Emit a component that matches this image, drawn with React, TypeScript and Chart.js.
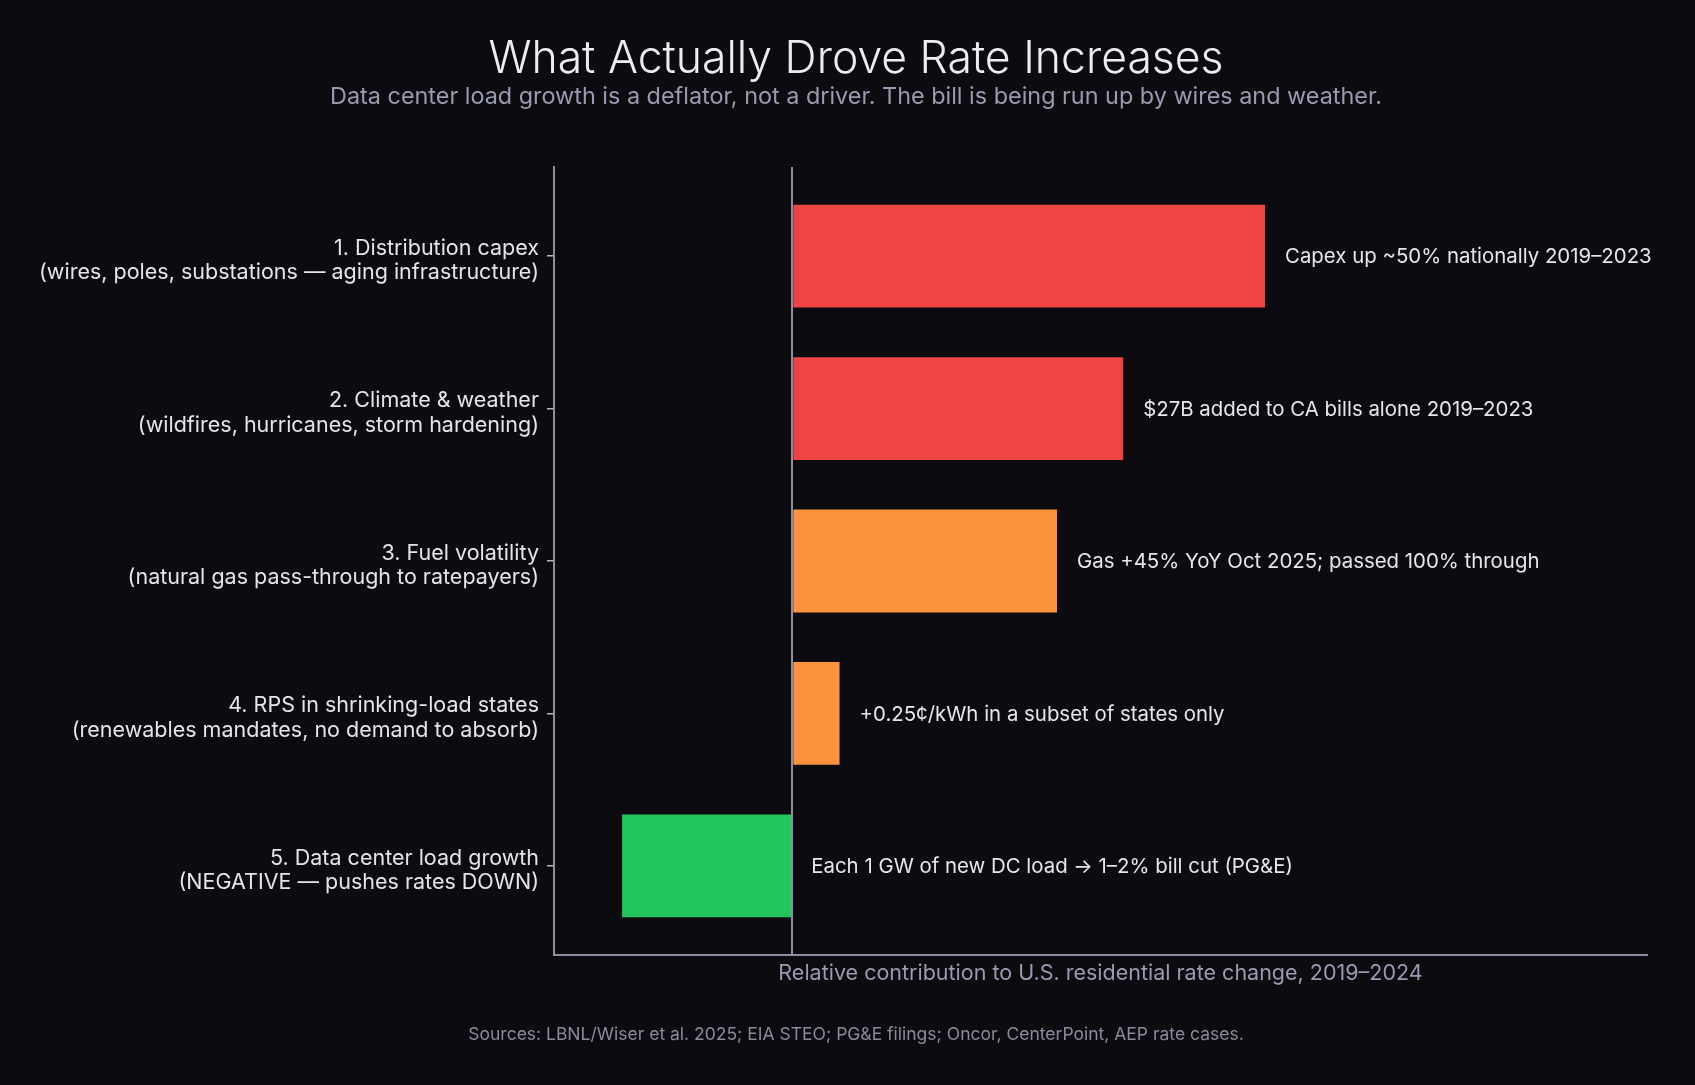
import React, { useEffect, useRef } from "react";
import { Chart, registerables } from "chart.js";

Chart.register(...registerables);

const categories: string[][] = [
  ["1. Distribution capex", "(wires, poles, substations — aging infrastructure)"],
  ["2. Climate & weather", "(wildfires, hurricanes, storm hardening)"],
  ["3. Fuel volatility", "(natural gas pass-through to ratepayers)"],
  ["4. RPS in shrinking-load states", "(renewables mandates, no demand to absorb)"],
  ["5. Data center load growth", "(NEGATIVE — pushes rates DOWN)"],
];
const contributions: number[] = [100, 70, 56, 10, -36];
const barColors: string[] = ["#ef4444", "#ef4444", "#fb923c", "#fb923c", "#22c55e"];
const annotations: string[] = [
  "Capex up ~50% nationally 2019–2023",
  "$27B added to CA bills alone 2019–2023",
  "Gas +45% YoY Oct 2025; passed 100% through",
  "+0.25¢/kWh in a subset of states only",
  "Each 1 GW of new DC load → 1–2% bill cut (PG&E)",
];
const xMin = -50.4;
const xMax = 180.8;

const titleText = "What Actually Drove Rate Increases";
const subtitleText =
  "Data center load growth is a deflator, not a driver. The bill is being run up by wires and weather.";
const xTitle = "Relative contribution to U.S. residential rate change, 2019–2024";
const sourceText =
  "Sources: LBNL/Wiser et al. 2025; EIA STEO; PG&E filings; Oncor, CenterPoint, AEP rate cases.";

const BG = "#0b0b10";
const SPINE = "#8e8ea2";

const textPlugin = {
  id: "texts",
  afterDatasetsDraw(chart: any) {
    const ctx = chart.ctx;
    const meta = chart.getDatasetMeta(0);
    ctx.save();
    ctx.font = "20.4px Inter";
    ctx.fillStyle = "#e6e6ec";
    ctx.textBaseline = "middle";
    ctx.textAlign = "left";
    meta.data.forEach((el: any, i: number) => {
      const p = el.getProps(["x", "y", "base"], true);
      ctx.fillText(annotations[i], Math.max(p.x, p.base) + 20, p.y + 1);
    });
    ctx.restore();
  },
  afterDraw(chart: any) {
    const ctx = chart.ctx;
    ctx.save();
    ctx.textAlign = "center";
    ctx.textBaseline = "alphabetic";
    ctx.font = "300 44.5px Inter";
    ctx.fillStyle = "#ececf1";
    ctx.fillText(titleText, 856, 73);
    ctx.font = "23.4px Inter";
    ctx.fillStyle = "#9a9ab0";
    ctx.fillText(subtitleText, 856, 104);
    ctx.font = "17.5px Inter";
    ctx.fillStyle = "#8a8a9c";
    ctx.fillText(sourceText, 856, 1040);
    ctx.restore();
  },
};

export default function App() {
  const ref = useRef<HTMLCanvasElement | null>(null);
  useEffect(() => {
    if (!ref.current) return;
    const chart = new Chart(ref.current, {
      type: "bar",
      data: {
        datasets: [
          {
            data: contributions.map((v, i) => ({ x: v, y: i })),
            backgroundColor: barColors,
            borderWidth: 0,
            barPercentage: 0.675,
            categoryPercentage: 1,
          },
        ],
      },
      options: {
        indexAxis: "y",
        responsive: false,
        animation: false,
        devicePixelRatio: 1,
        layout: { padding: { top: 167, right: 48, bottom: 0, left: 0 } },
        plugins: {
          legend: { display: false },
          tooltip: { enabled: false },
          title: { display: false },
        },
        scales: {
          y: {
            type: "linear",
            reverse: true,
            offset: false,
            min: -0.585,
            max: 4.585,
            afterBuildTicks: (s: any) => {
              s.ticks = categories.map((_, i) => ({ value: i }));
            },
            afterFit: (s: any) => {
              s.width = 554;
            },
            ticks: {
              autoSkip: false,
              callback: (v: any) => categories[Math.round(Number(v))] || "",
              color: "#e4e4ea",
              font: { family: "Inter", size: 21.5, lineHeight: 1.13 },
              padding: 8,
              labelOffset: 4.5,
            },
            grid: {
              display: true,
              offset: false,
              drawOnChartArea: false,
              drawTicks: true,
              tickLength: 7,
              color: "#b8b8c2",
              lineWidth: 1.5,
            },
            border: { display: true, color: SPINE, width: 2 },
          },
          x: {
            type: "linear",
            min: xMin,
            max: xMax,
            z: 1,
            afterBuildTicks: (s: any) => {
              s.ticks = [{ value: 0 }];
            },
            afterFit: (s: any) => {
              s.height = 130;
            },
            ticks: { display: false },
            grid: { display: true, drawTicks: false, color: SPINE, lineWidth: 2 },
            border: { display: true, color: SPINE, width: 2 },
            title: {
              display: true,
              text: xTitle,
              color: "#9a9ab0",
              font: { family: "Inter", size: 21.5, lineHeight: 1.2 },
              padding: { top: 0, bottom: 99 },
            },
          },
        },
      } as any,
      plugins: [textPlugin],
    });
    return () => chart.destroy();
  }, []);
  return (
    <div style={{ position: "fixed", left: 0, top: 0, width: 1695, height: 1085, background: BG }}>
      <canvas ref={ref} width={1695} height={1085} style={{ display: "block" }} />
    </div>
  );
}
